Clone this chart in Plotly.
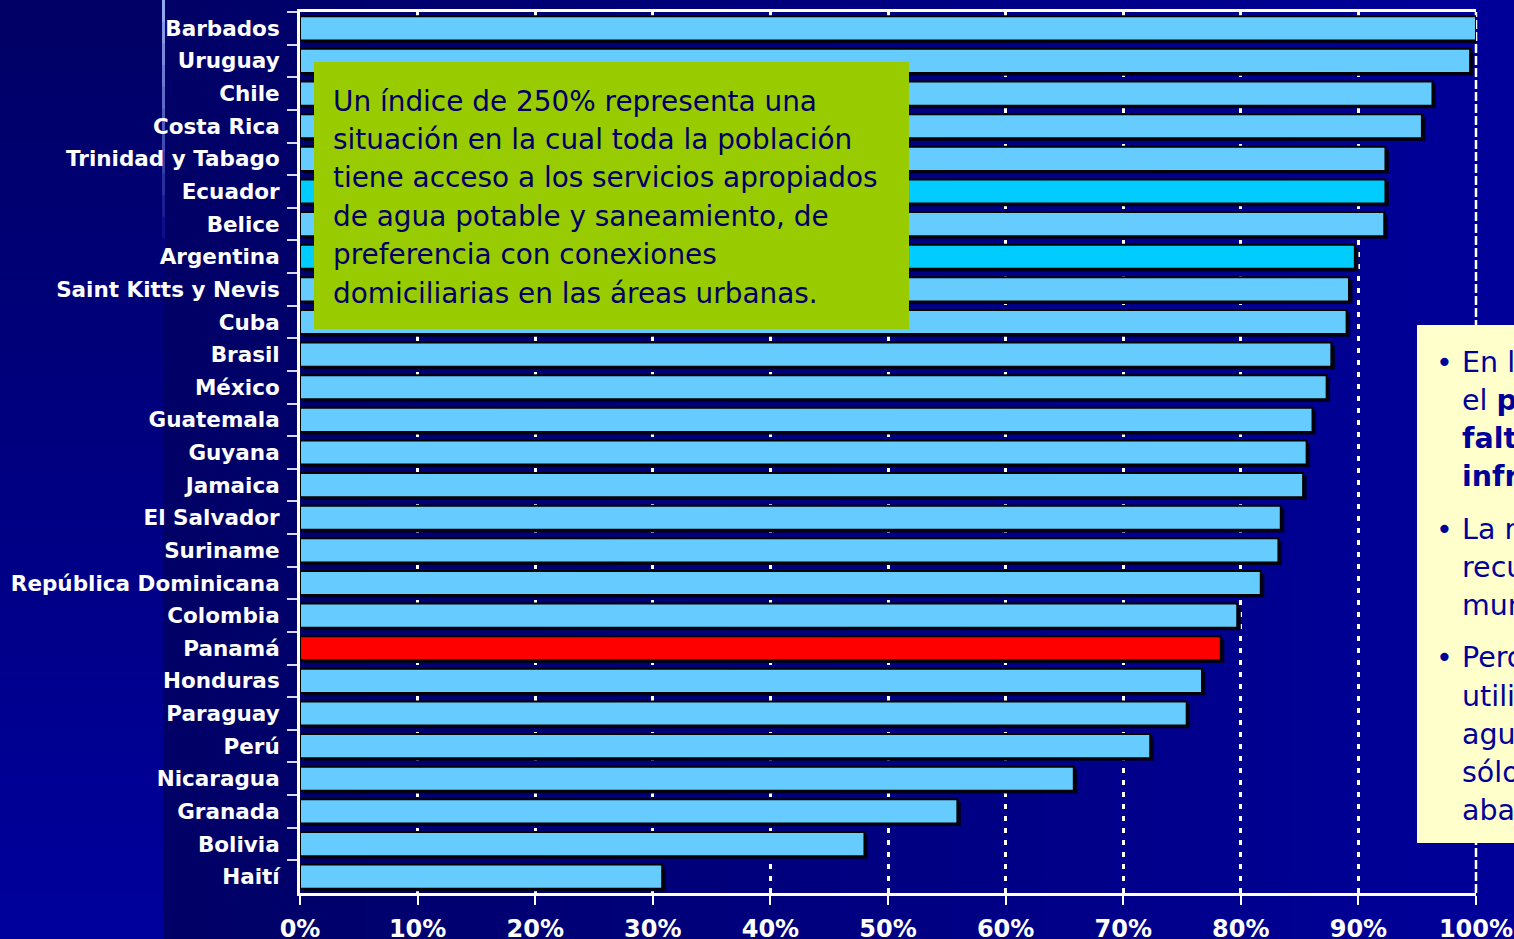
import plotly.graph_objects as go

# ---------------- data ----------------
countries = ["Barbados", "Uruguay", "Chile", "Costa Rica", "Trinidad y Tabago", "Ecuador",
             "Belice", "Argentina", "Saint Kitts y Nevis", "Cuba", "Brasil", "México",
             "Guatemala", "Guyana", "Jamaica", "El Salvador", "Suriname",
             "República Dominicana", "Colombia", "Panamá", "Honduras", "Paraguay", "Perú",
             "Nicaragua", "Granada", "Bolivia", "Haití"]
values = [100, 99.5, 96.3, 95.4, 92.3, 92.3, 92.2, 89.7, 89.2, 89.0, 87.7, 87.3, 86.1, 85.6,
          85.3, 83.4, 83.2, 81.7, 79.7, 78.3, 76.7, 75.4, 72.3, 65.8, 55.9, 48.0, 30.8]
highlight = {"Ecuador": "#00CCFF", "Argentina": "#00CCFF", "Panamá": "#FF0000"}
x_ticks = [0, 10, 20, 30, 40, 50, 60, 70, 80, 90, 100]
x_ticktext = [f"{v}%" for v in x_ticks]

note_green = ["Un índice de 250% representa una",
              "situación en la cual toda la población",
              "tiene acceso a los servicios apropiados",
              "de agua potable y saneamiento, de",
              "preferencia con conexiones",
              "domiciliarias en las áreas urbanas."]
bullets = [
    ["En la región", "el <b>problema es la</b>", "<b>falta de</b>", "<b>infraestructura</b>"],
    ["La región tiene", "recursos hídricos", "mundiales"],
    ["Pero se", "utiliza poca", "agua y", "sólo para", "abastecimiento"],
]

# ---------------- layout geometry (pixels) ----------------
W, H = 1514, 939
L, R, T, B = 300, 1476, 12, 893


def px_x(x):
    return (x - L) / (R - L)


def px_y(y):
    return (B - y) / (B - T)


def lerp_col(c1, c2, t):
    return "rgb({},{},{})".format(*[round(a + (b - a) * t) for a, b in zip(c1, c2)])


base_colors = [highlight.get(c, "#66CCFF") for c in countries]
bar_width = 0.74

fig = go.Figure()
# shadow
fig.add_trace(go.Bar(
    y=countries, x=values, base=0.3, orientation="h", width=bar_width,
    offset=-bar_width / 2 + 0.08, marker=dict(color="#000022", line=dict(width=0)),
    hoverinfo="skip", showlegend=False))
fig.add_trace(go.Bar(
    y=countries, x=values, orientation="h", width=bar_width, offset=-bar_width / 2,
    marker=dict(color=base_colors, line=dict(color="#000000", width=2)),
    showlegend=False))

shapes = []
# background gradient (horizontal)
n = 60
x0p, x1p = 163, W + 2
for i in range(n):
    a = x0p + (x1p - x0p) * i / n
    b = x0p + (x1p - x0p) * (i + 1) / n + 1
    shapes.append(dict(type="rect", xref="paper", yref="paper", x0=px_x(a), x1=px_x(b),
                       y0=px_y(H + 2), y1=px_y(-2), layer="below", line=dict(width=0),
                       fillcolor=lerp_col((0, 0, 0x66), (0, 0, 0x99), i / (n - 1))))
# left strip gradient (vertical)
m = 40
for i in range(m):
    a = -2 + (H + 4) * i / m
    b = -2 + (H + 4) * (i + 1) / m + 1
    shapes.append(dict(type="rect", xref="paper", yref="paper", x0=px_x(-2), x1=px_x(163),
                       y0=px_y(b), y1=px_y(a), layer="below", line=dict(width=0),
                       fillcolor=lerp_col((0, 0, 0x66), (0, 0, 0x9C), i / (m - 1))))
# light edge line at the top of the left strip
k = 12
for i in range(k):
    a = 260 * i / k
    b = 260 * (i + 1) / k
    shapes.append(dict(type="line", xref="paper", yref="paper", x0=px_x(163.5), x1=px_x(163.5),
                       y0=px_y(a), y1=px_y(b + 1), layer="below",
                       line=dict(width=3, color=lerp_col((0x90, 0xA8, 0xF0), (0, 0, 0x80), i / (k - 1)))))
# 100% dashed line
shapes.append(dict(type="line", xref="x domain", yref="paper", x0=1, x1=1, y0=0, y1=1,
                   line=dict(color="white", width=2.5, dash="9px,3px"), layer="below"))
# green box
shapes.append(dict(type="rect", xref="paper", yref="paper", x0=px_x(314), x1=px_x(909),
                   y0=px_y(329), y1=px_y(62), fillcolor="#99CC00", line=dict(width=0),
                   layer="above"))
# yellow box
shapes.append(dict(type="rect", xref="paper", yref="paper", x0=px_x(1417), x1=px_x(1540),
                   y0=px_y(843), y1=px_y(325), fillcolor="#FFFFCC", line=dict(width=0),
                   layer="above"))

box_font = "DejaVu Sans, Tahoma, sans-serif"
annotations = []
for i, line in enumerate(note_green):
    annotations.append(dict(xref="paper", yref="paper", x=px_x(331), y=px_y(101 + 38.4 * i),
                            xanchor="left", yanchor="middle", text=line, showarrow=False,
                            align="left", font=dict(family=box_font, size=27.9, color="#000066")))
for lines, ytop, step in zip(bullets, [362, 530, 658], [38, 37.5, 38]):
    annotations.append(dict(xref="paper", yref="paper", x=px_x(1434), y=px_y(ytop),
                            xanchor="left", yanchor="middle", text="•", showarrow=False,
                            font=dict(family=box_font, size=28.5, color="#000099")))
    for j, line in enumerate(lines):
        annotations.append(dict(xref="paper", yref="paper", x=px_x(1460), y=px_y(ytop + step * j),
                                xanchor="left", yanchor="middle", text=line, showarrow=False,
                                align="left",
                                font=dict(family=box_font, size=28.5, color="#000099")))

fig.update_layout(
    width=W, height=H, autosize=False,
    margin=dict(l=L, r=W - R, t=T, b=H - B, pad=0, autoexpand=False),
    paper_bgcolor="#000066", plot_bgcolor="rgba(0,0,0,0)",
    barmode="overlay", showlegend=False,
    shapes=shapes, annotations=annotations,
    xaxis=dict(range=[0, 100], tickvals=x_ticks, ticktext=x_ticktext, automargin=False,
               showgrid=True, gridcolor="white", gridwidth=3, griddash="5px,7px",
               showline=True, linecolor="white", linewidth=3, mirror=True,
               ticks="outside", ticklen=9, tickwidth=2, tickcolor="white",
               ticklabelstandoff=3, zeroline=False,
               tickfont=dict(family="DejaVu Sans, sans-serif", size=24, color="white",
                             weight="bold")),
    yaxis=dict(categoryorder="array", categoryarray=countries, range=[26.5, -0.5],
               automargin=False,
               showgrid=False, showline=True, linecolor="white", linewidth=3,
               ticks="outside", tickson="boundaries", ticklen=10, tickwidth=2,
               tickcolor="#D8D8F0", ticklabelstandoff=13,
               tickfont=dict(family="DejaVu Sans, sans-serif", size=21.5, color="white",
                             weight="bold")),
    font=dict(family="DejaVu Sans, sans-serif"),
)

fig.write_html("out.html", config={"displayModeBar": False},
               post_script="document.body.style.margin='0';"
                           "document.body.style.overflow='hidden';")
